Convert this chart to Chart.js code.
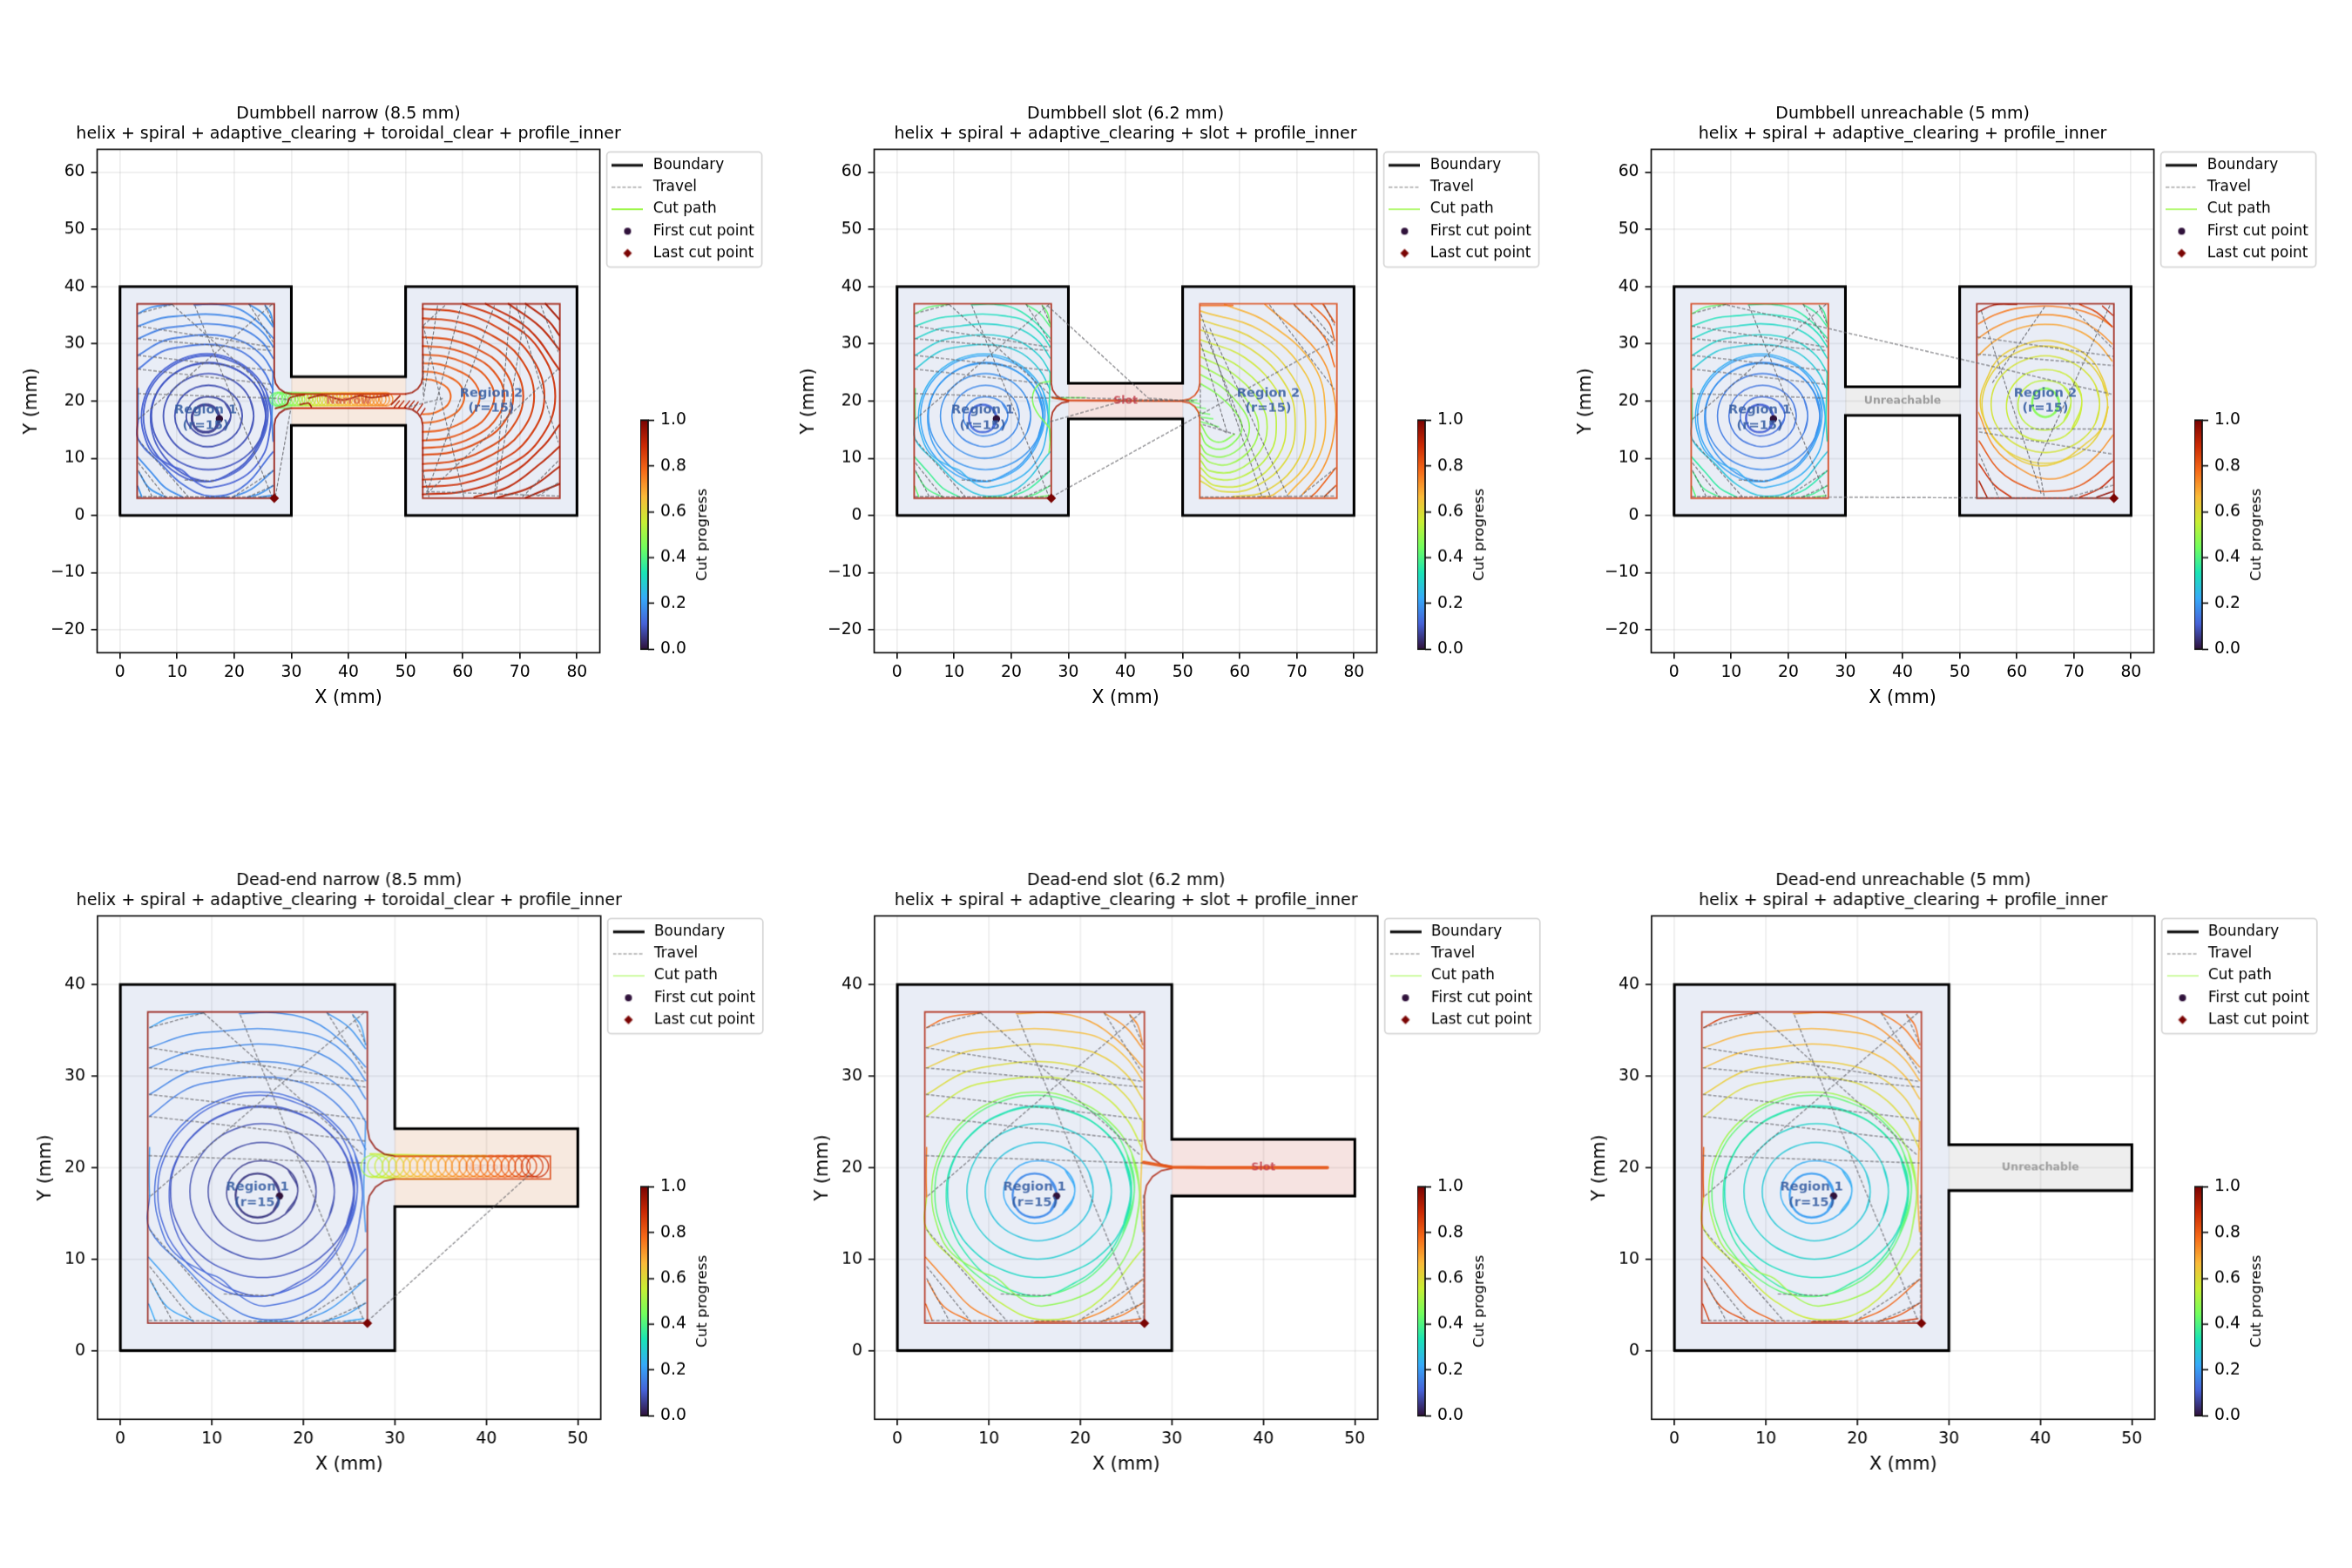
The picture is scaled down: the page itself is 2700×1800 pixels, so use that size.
<!DOCTYPE html>
<html>
<head>
<meta charset="utf-8">
<title>Toolpath cut progress</title>
<script src="https://cdn.jsdelivr.net/npm/chart.js@4/dist/chart.umd.js"></script>
<style>
    html, body { margin: 0; background: #ffffff; }
    #page { position: relative; width: 2700px; height: 1800px; overflow: hidden; }
    #page canvas { position: absolute; left: 0; top: 0; }
</style>
</head>
<body>
<div id="page"></div>
<script>
// ---- outlines (mm) ----
const roomLeft = [[0, 0], [30, 0], [30, 40], [0, 40], [0, 0]];
const roomRight = [[50, 0], [80, 0], [80, 40], [50, 40], [50, 0]];
const neckNarrow = [[30, 15.75], [50, 15.75], [50, 24.25], [30, 24.25], [30, 15.75]];
const neckSlot = [[30, 16.9], [50, 16.9], [50, 23.1], [30, 23.1], [30, 16.9]];
const neckBlocked = [[30, 17.5], [50, 17.5], [50, 22.5], [30, 22.5], [30, 17.5]];
const dumbbellNarrow = [[0, 0], [30, 0], [30, 15.75], [50, 15.75], [50, 0], [80, 0], [80, 40], [50, 40], [50, 24.25], [30, 24.25], [30, 40], [0, 40], [0, 0]];
const dumbbellSlot = [[0, 0], [30, 0], [30, 16.9], [50, 16.9], [50, 0], [80, 0], [80, 40], [50, 40], [50, 23.1], [30, 23.1], [30, 40], [0, 40], [0, 0]];
const dumbbellBlocked = [[0, 0], [30, 0], [30, 17.5], [50, 17.5], [50, 0], [80, 0], [80, 40], [50, 40], [50, 22.5], [30, 22.5], [30, 40], [0, 40], [0, 0]];
const deadEndNarrow = [[0, 0], [30, 0], [30, 15.75], [50, 15.75], [50, 24.25], [30, 24.25], [30, 40], [0, 40], [0, 0]];
const deadEndSlot = [[0, 0], [30, 0], [30, 16.9], [50, 16.9], [50, 23.1], [30, 23.1], [30, 40], [0, 40], [0, 0]];
const deadEndBlocked = [[0, 0], [30, 0], [30, 17.5], [50, 17.5], [50, 22.5], [30, 22.5], [30, 40], [0, 40], [0, 0]];

// ---- profile passes ----
const profileLeftNarrow = [[30, 21.25], [28.85, 21.48], [27.88, 22.13], [27.23, 23.1], [27, 24.25], [27, 37], [3, 37], [3, 3], [27, 3], [27, 15.75], [27.23, 16.9], [27.88, 17.87], [28.85, 18.52], [30, 18.75]];
const profileNeckNarrow = [[[30, 21.25], [50, 21.25]], [[30, 18.75], [50, 18.75]]];
const profileRightNarrow = [[50, 21.25], [51.15, 21.48], [52.12, 22.13], [52.77, 23.1], [53, 24.25], [53, 37], [77, 37], [77, 3], [53, 3], [53, 15.75], [52.77, 16.9], [52.12, 17.87], [51.15, 18.52], [50, 18.75]];
const profileLeftSlot = [[30, 20.1], [28.85, 20.33], [27.88, 20.98], [27.23, 21.95], [27, 23.1], [27, 37], [3, 37], [3, 3], [27, 3], [27, 16.9], [27.23, 18.05], [27.88, 19.02], [28.85, 19.67], [30, 19.9]];
const profileRightSlot = [[50, 20.1], [51.15, 20.33], [52.12, 20.98], [52.77, 21.95], [53, 23.1], [53, 37], [77, 37], [77, 3], [53, 3], [53, 16.9], [52.77, 18.05], [52.12, 19.02], [51.15, 19.67], [50, 19.9]];
const profileRectLeft = [[27, 3], [27, 37], [3, 37], [3, 3], [27, 3]];
const profileRectRight = [[77, 3], [77, 37], [53, 37], [53, 3], [77, 3]];
const profilePocketNarrow = [[30, 21.25], [47, 21.25], [47, 18.75], [30, 18.75]];

// ---- spiral turns of the first pocket, helix first, corners last ----
const pocketOneTurns = [
    [[17.4, 17], [16.7, 18.7], [15, 19.35], [13.3, 18.7], [12.6, 17], [13.3, 15.2], [15, 14.55], [16.7, 15.2], [17.4, 17]],
    [[19.4, 17.4], [18.3, 19.8], [15.4, 20.75], [12.8, 19.8], [11.6, 17.2], [12.8, 14.9], [15, 13.9], [18, 14.9], [19.4, 17.4]],
    [[21.4, 17.4], [20.95, 19.45], [19.7, 21.2], [17.75, 22.35], [15.5, 22.75], [13.25, 22.35], [11.3, 21.2], [10.05, 19.45], [9.6, 17.4], [10.05, 15.35], [11.3, 13.6], [13.25, 12.45], [15.3, 12], [17.6, 12.45], [19.6, 13.6], [20.95, 15.35], [21.4, 17.4]],
    [[23.4, 17.4], [22.8, 20.2], [21.1, 22.6], [18.5, 24.2], [15.5, 24.8], [12.5, 24.2], [9.9, 22.6], [8.2, 20.2], [7.6, 17.4], [8.2, 14.6], [9.9, 12.2], [12.5, 10.6], [15.3, 10], [18.3, 10.6], [21, 12.2], [22.8, 14.6], [23.4, 17.4]],
    [[25.5, 17.4], [24.74, 21], [22.57, 24], [19.33, 26], [15.5, 26.75], [11.67, 26], [8.43, 24], [6.26, 21], [5.5, 17.4], [6.26, 13.8], [8.43, 10.8], [11.67, 8.76], [15.5, 8], [19.33, 8.76], [22.57, 10.8], [24.74, 13.8], [25.5, 17.4]],
    [[25.6, 17.4], [24.8, 21], [22.6, 24], [19.4, 25.9], [15.5, 26.6], [11.6, 25.9], [8.4, 23.9], [6.2, 21], [5.35, 17.4], [6, 13.3], [7.8, 10.2], [10, 8], [13, 6.4], [16, 6], [19, 7.2], [22, 9.3], [24.6, 13.2], [25.6, 17.4]],
    [[25.9, 17.4], [25.1, 21.5], [22.8, 25], [19.2, 27.1], [15.3, 27.9], [11, 27.1], [7.4, 24.8], [5, 21.5], [4.1, 17.4], [4.9, 13.2], [6.9, 10], [9, 8], [11.5, 6.5], [13.5, 6], [16, 6], [19, 6.9], [22, 8.9], [24.6, 12.6], [25.9, 17.4]],
    [[26.45, 17.4], [25.6, 21.6], [23.1, 25.1], [19.4, 27.4], [15.2, 28.25], [10.9, 27.4], [7.1, 25], [4.7, 21.6], [3.75, 17.4], [4.5, 13.2], [6, 10.6], [9.2, 8.6], [10.9, 7.9], [12.8, 6.2], [14.6, 5.1], [16, 4.9], [20, 5.9], [23, 7.8], [25.3, 11], [26.1, 14], [26.45, 17.4]],
    [[3.2, 17], [3.2, 13.3], [7.3, 8.9], [11, 5.4], [15.7, 3.4], [21.2, 4.8], [26.8, 11.1]],
    [[3.2, 25.6], [7.3, 28.6], [11, 29.5], [15, 29.9], [18.5, 29.6], [21.9, 28.3], [25, 25.4], [26.8, 22]],
    [[3.2, 28], [7.3, 30.4], [11, 31.2], [15, 31.6], [18.5, 31.3], [21.9, 30.2], [25, 27.8], [26.8, 25]],
    [[3.2, 30.9], [7.3, 32.6], [11, 33.1], [15, 33.5], [18.5, 33.2], [21.9, 32.4], [25, 30.2], [26.8, 27.5]],
    [[3.2, 33.1], [7.3, 34.5], [11, 34.9], [15, 35.2], [18.5, 34.9], [22, 34.2], [25, 32], [26.8, 29.5]],
    [[13, 36.8], [17, 36.9], [21, 36], [24.5, 33.5], [26.8, 31]],
    [[3.2, 35.3], [5.5, 36.4], [9.1, 36.9]],
    [[22.6, 36.9], [25, 35.3], [26.8, 33]],
    [[25.4, 36.7], [26.3, 35.5], [26.8, 33.4]],
    [[3.2, 22.2], [3.15, 19], [3.2, 16.8]],
    [[3.1, 10.2], [5.5, 7.5], [8, 4.8], [11, 3.2]],
    [[3.3, 7.6], [5.1, 4.8], [8, 3.2]],
    [[3.1, 5.1], [3.8, 3.3]],
    [[26.8, 7.8], [23, 4.6], [19.7, 3.2]],
    [[26.8, 5.2], [24.4, 3.8], [22.3, 3.2]],
    [[15, 3.15], [19, 3.2]],
    [[24.5, 3.2], [26.6, 3.5]],
    [[26.8, 25], [26.7, 21], [26.6, 17], [26.8, 13]],
];
const pocketOneNarrowProgress = [0.06, 0.075, 0.085, 0.09, 0.095, 0.1, 0.105, 0.11, 0.125, 0.135, 0.145, 0.155, 0.165, 0.17, 0.175, 0.18, 0.185, 0.18, 0.175, 0.185, 0.19, 0.17, 0.18, 0.185, 0.19, 0.16];
const pocketOneSlotProgress = [0.12, 0.165, 0.17, 0.18, 0.19, 0.2, 0.215, 0.235, 0.27, 0.28, 0.29, 0.3, 0.32, 0.35, 0.42, 0.4, 0.43, 0.4, 0.38, 0.4, 0.42, 0.37, 0.4, 0.42, 0.44, 0.36];
const pocketOneBlockedProgress = [0.11, 0.13, 0.14, 0.15, 0.17, 0.19, 0.21, 0.23, 0.27, 0.28, 0.3, 0.31, 0.33, 0.36, 0.42, 0.37, 0.38, 0.38, 0.36, 0.39, 0.41, 0.35, 0.38, 0.41, 0.42, 0.33];
const deadEndNarrowProgress = [0.05, 0.06, 0.075, 0.085, 0.095, 0.105, 0.115, 0.125, 0.14, 0.15, 0.16, 0.165, 0.17, 0.175, 0.21, 0.185, 0.2, 0.2, 0.2, 0.21, 0.22, 0.19, 0.2, 0.21, 0.22, 0.18];
const deadEndSlotProgress = [0.17, 0.22, 0.27, 0.29, 0.31, 0.35, 0.41, 0.48, 0.54, 0.56, 0.6, 0.63, 0.66, 0.7, 0.78, 0.72, 0.74, 0.76, 0.75, 0.77, 0.8, 0.74, 0.76, 0.78, 0.8, 0.65];
const deadEndBlockedProgress = [0.2, 0.23, 0.28, 0.3, 0.32, 0.36, 0.42, 0.5, 0.56, 0.6, 0.63, 0.66, 0.68, 0.72, 0.86, 0.76, 0.78, 0.8, 0.8, 0.83, 0.86, 0.79, 0.82, 0.85, 0.87, 0.7];

// ---- second pocket, one set per part ----
const pocketTwoNarrowArcs = [
    [[53, 23.8], [54.5, 23.7], [55.9, 23.2], [57.3, 22.3], [57.9, 20.8], [57.3, 19.25], [55.9, 18.3], [54.5, 17.8], [53, 17.7]],
    [[53, 25.15], [55.2, 25], [57.4, 24.3], [59.4, 23], [60.3, 20.8], [59.4, 18.5], [57.4, 17.1], [55.2, 16.4], [53, 16.2]],
    [[53, 26.6], [56, 26.4], [59, 25.4], [61.7, 23.7], [63, 20.8], [61.7, 17.7], [59, 15.8], [56, 14.85], [53, 14.6]],
    [[53, 28.1], [56.8, 27.8], [60.5, 26.6], [63.9, 24.45], [65.55, 20.8], [63.9, 16.95], [60.5, 14.65], [56.8, 13.4], [53, 13.1]],
    [[53, 29.6], [57.3, 29.25], [61.6, 27.85], [65.4, 25.2], [67.3, 20.8], [65.4, 16.3], [61.6, 13.6], [57.3, 12.15], [53, 11.8]],
    [[53, 31.15], [57.75, 30.75], [62.5, 29.1], [66.8, 26], [68.85, 20.8], [66.8, 15.7], [62.5, 12.65], [57.75, 11], [53, 10.6]],
    [[53, 32.9], [58.3, 32.4], [63.55, 30.5], [68.3, 26.85], [70.6, 20.8], [68.3, 14.9], [63.55, 11.35], [58.3, 9.5], [53, 9]],
    [[53, 34.45], [58.85, 33.9], [64.7, 31.7], [70, 27.6], [72.5, 20.8], [70, 14.3], [64.7, 10.4], [58.85, 8.3], [53, 7.8]],
    [[53, 36.1], [59.4, 35.5], [65.8, 33], [71.5, 28.45], [74.3, 20.8], [71.5, 13.5], [65.8, 9.15], [59.4, 6.8], [53, 6.25]],
    [[60, 37], [66.9, 34.3], [73.2, 29.25], [76.2, 20.8], [73.2, 12.9], [66.9, 8.15], [60, 5.6], [53, 5]],
    [[64, 37], [71.5, 32.6], [76.9, 25.5]],
    [[76.9, 15.8], [74, 12], [68, 7], [60, 4.2], [53, 3.7]],
    [[68, 37], [73.5, 33], [76.9, 29]],
    [[76.9, 12], [73.5, 9], [68, 5], [62, 3.2]],
    [[71, 37], [75, 34], [76.9, 31.5]],
    [[76.9, 8.5], [72, 5], [66, 3.1]],
    [[74.5, 37], [76.9, 34.3]],
    [[76.9, 5.5], [71, 3.1]],
];
const pocketTwoNarrowProgress = [0.79, 0.8, 0.81, 0.82, 0.83, 0.84, 0.85, 0.86, 0.87, 0.88, 0.9, 0.9, 0.91, 0.91, 0.92, 0.92, 0.94, 0.94];
const pocketTwoSlotArcs = [
    [[53.2, 15.9], [54.75, 13.4], [56.8, 12.85], [59.1, 14.2]],
    [[53.2, 23], [56.3, 21], [59.3, 18], [60.4, 15.4], [59.3, 13.1], [56.8, 11.6], [54.2, 12.35], [53.2, 14.4]],
    [[53.2, 24.6], [56.8, 22.5], [60.6, 18.4], [61.7, 15.4], [60.6, 12.35], [57.3, 10.3], [54.2, 10.8], [53.2, 12.3]],
    [[53.2, 26.2], [57.8, 23.5], [62.1, 19], [63.3, 15.4], [62.1, 11.8], [58.3, 9], [54.75, 9.3], [53.2, 10.8]],
    [[53.2, 27.7], [58.8, 24.8], [63.6, 19.7], [64.8, 15.4], [63.6, 11.3], [59.3, 7.8], [54.75, 7.8], [53.2, 9.55]],
    [[53.2, 29.1], [59.8, 26.05], [65.2, 20.5], [66.4, 15.9], [65.2, 10.8], [60.3, 6.75], [55.3, 6.5], [53.2, 8.3]],
    [[53.2, 30.7], [60.85, 27.6], [66.7, 21.5], [68.1, 15.9], [66.7, 10.3], [61.6, 5.7], [55.8, 5.2], [53.2, 7]],
    [[53.2, 32.4], [61.9, 29.1], [68.2, 22.5], [69.7, 15.9], [68.2, 9.8], [62.6, 5], [56.8, 4.2], [53.2, 6]],
    [[53.2, 34.2], [62.9, 30.6], [69.7, 23.5], [71.5, 16.4], [70, 9.3], [64.4, 4.2], [58.8, 3.3]],
    [[53.2, 35.7], [63.9, 32.2], [71.5, 24.8], [73.3, 16.9], [71.8, 9.3], [66, 3.7], [63.4, 3.2]],
    [[57.3, 36.9], [64.9, 33.7], [73, 26.1], [75, 17.4], [73.6, 9.8], [68.5, 3.7]],
    [[64.4, 36.9], [73.6, 28.6], [76.5, 21], [76.5, 14.4], [74.6, 8.3], [71, 3.7]],
    [[69.5, 36.9], [74.8, 31.1], [76.6, 26]],
    [[72.5, 36.9], [75.6, 33.7], [76.6, 30.6]],
    [[74.6, 36.9], [76.6, 33.7]],
    [[76.8, 8.3], [73.5, 4.2], [72.5, 3.3]],
    [[76.8, 5.2], [74.8, 3.3]],
    [[53.2, 36.7], [58.8, 36.7]],
];
const pocketTwoSlotProgress = [0.47, 0.47, 0.48, 0.5, 0.52, 0.54, 0.57, 0.6, 0.62, 0.65, 0.68, 0.72, 0.78, 0.8, 0.82, 0.8, 0.82, 0.78];
const pocketTwoBlockedTurns = [
    [[67.4, 19.7], [66.7, 21.4], [65, 22.2], [63.3, 21.4], [62.7, 19.7], [63.3, 18], [65, 17.2], [66.7, 18], [67.4, 19.7]],
    [[69.5, 20], [68.2, 22.6], [65, 23.6], [61.8, 22.6], [60.2, 19.6], [61.5, 16.2], [65, 14.9], [68.2, 16.4], [69.5, 20]],
    [[71.4, 20], [69.5, 24], [65, 25.5], [60.5, 24], [58.2, 19.5], [60, 14.8], [65, 13], [69.5, 14.8], [71.4, 20]],
    [[74.5, 19.45], [73.8, 22.7], [71.7, 25.4], [68.6, 27.2], [65, 27.9], [61.4, 27.2], [58.3, 25.4], [56.2, 22.7], [55.5, 19.45], [56.2, 16.2], [58.3, 13.5], [61.4, 11.7], [65, 11], [68.6, 11.7], [71.7, 13.5], [73.8, 16.2], [74.5, 19.45]],
    [[75.9, 19.4], [75, 23.3], [72.7, 26.6], [69.1, 28.8], [64.9, 29.6], [60.7, 28.8], [57.1, 26.6], [54.8, 23.3], [53.9, 19.4], [54.8, 15.5], [57.1, 12.2], [60.7, 10], [64.9, 9.1], [69.1, 10], [72.7, 12.2], [75, 15.5], [75.9, 19.4]],
    [[76, 21], [75, 24], [73, 27.3], [69.2, 29.7], [65, 30.6], [60.8, 29.7], [57, 27.6], [54.8, 24], [53.6, 20], [54.6, 16], [56.5, 13], [61, 9.4], [66.5, 9], [72, 12.5], [75, 15.5], [76, 19]],
    [[53.3, 28], [56, 30.4], [60, 32.6], [65, 33.4], [70, 32.6], [74, 30.2], [76.7, 27]],
    [[53.3, 31], [56, 32.8], [60, 34.4], [65, 35.1], [70, 34.4], [74, 32.4], [76.7, 30]],
    [[53.3, 33.5], [56, 35], [60, 36.2], [65, 36.6], [70, 36.1], [74, 34.8], [76.7, 33]],
    [[53.3, 35.6], [56, 36.8], [60, 36.9]],
    [[71, 36.9], [74, 35.5], [76.7, 33]],
    [[75, 36.6], [76.8, 35]],
    [[53.3, 18], [56, 12], [60, 8.5], [65, 6.4], [70, 7.5], [74, 10.5], [76.8, 14]],
    [[53.4, 13], [57, 7.8], [62, 4.8], [65, 4.2], [71, 5.2], [76.8, 9.5]],
    [[53.4, 9], [56, 5.4], [59, 3.2]],
    [[53.4, 6], [54.8, 3.2]],
    [[71, 3.2], [74.5, 4.7], [76.8, 6.7]],
    [[74, 3.2], [76.8, 4.2]],
];
const pocketTwoBlockedProgress = [0.47, 0.54, 0.56, 0.58, 0.62, 0.63, 0.7, 0.73, 0.76, 0.93, 0.85, 0.9, 0.72, 0.82, 0.88, 0.93, 0.9, 0.97];

// ---- neck passes ----
const neckWavesNarrow = [
    [[27.2, 18.7], [29.2, 19.4], [29.7, 20.5], [32.3, 21.1]],
    [[33, 20.5], [35.5, 21], [39, 20.2], [42, 20.9], [44, 20.6], [47, 21]],
    [[47.5, 19.4], [49, 20.9]],
    [[31.5, 19.4], [33, 19.6], [33.5, 19]],
];
const neckHatchNarrow = [
    [[48, 18.9], [48.9, 20]], [[48.8, 18.9], [49.7, 20]], [[49.8, 18.9], [50.7, 20]], [[50.6, 18.9], [51.5, 20]],
    [[51.3, 18.6], [52.2, 19.8]], [[52.1, 18.2], [53, 19.5]], [[52.6, 17.5], [53.4, 18.7]],
];
const coilXNarrow = [27.4, 27.8, 28.2, 28.8, 29.4, 30, 30.6, 31.2, 31.9, 32.5, 33.1, 33.8, 34.4, 35, 35.7, 36.3, 37, 37.6, 38.3, 38.9, 39.5, 40.2, 40.8, 41.5, 42.1, 42.8, 43.4, 44.1, 44.7, 45.4, 46, 46.6];
const coilYNarrow = [20.3, 20.3, 20.3, 20.3, 20.3, 20.3, 20.3, 20.3, 20.3, 20.3, 20.3, 20.3, 20.3, 20.3, 20.3, 20.3, 20.3, 20.3, 20.3, 20.3, 20.3, 20.3, 20.3, 20.3, 20.3, 20.3, 20.3, 20.3, 20.3, 20.3, 20.3, 20.3];
const coilProgressNarrow = [0.43, 0.43, 0.44, 0.45, 0.46, 0.47, 0.48, 0.5, 0.51, 0.53, 0.54, 0.56, 0.57, 0.58, 0.6, 0.61, 0.62, 0.63, 0.64, 0.65, 0.66, 0.67, 0.68, 0.69, 0.7, 0.71, 0.71, 0.72, 0.72, 0.73, 0.73, 0.74];
const coilXDeadEnd = [27.5, 28.2, 29, 29.8, 30.5, 31.3, 32.1, 32.8, 33.6, 34.4, 35.1, 35.9, 36.7, 37.4, 38.2, 39, 39.7, 40.5, 41.3, 42, 42.8, 43.6, 44.3, 45, 45.6];
const coilYDeadEnd = [20.15, 20.15, 20.15, 20.15, 20.15, 20.15, 20.15, 20.15, 20.15, 20.15, 20.15, 20.15, 20.15, 20.15, 20.15, 20.15, 20.15, 20.15, 20.15, 20.15, 20.15, 20.15, 20.15, 20.15, 20.15];
const coilProgressDeadEnd = [0.5, 0.53, 0.56, 0.59, 0.62, 0.64, 0.66, 0.67, 0.68, 0.69, 0.7, 0.71, 0.72, 0.73, 0.74, 0.75, 0.76, 0.77, 0.78, 0.8, 0.81, 0.83, 0.85, 0.87, 0.89];
const streaksNarrow = [[[27.6, 21.45], [35, 21.3]], [[27.3, 18.85], [30, 18.8]]];
const streaksDeadEnd = [[[27.3, 21.5], [33, 21.35], [40, 21.25]], [[27.3, 19], [31, 18.75], [37, 18.75]]];
const slotPassDumbbell = [[27.2, 20.6], [30, 20.1], [50, 20]];
const slotEntryDumbbell = [
    [[27.2, 20.5], [33, 20.6]], [[50.7, 20.1], [52.5, 20.2]], [[51.2, 19.9], [53, 19.5]], [[52.2, 19], [54, 18.7]],
    [[52.7, 18], [54.75, 17.7]], [[53.1, 17.2], [55.3, 16.9]], [[53.1, 16.4], [56.3, 15.5]],
];
const slotPassDeadEnd = [[26.9, 20.56], [30, 20.05], [34, 20], [47, 20]];
const relaxedLoopSlot = [[27, 23.5], [24.8, 22.9], [23.7, 20.6], [24.5, 18], [26.8, 15], [26.8, 13], [26.6, 11]];

// ---- rapid moves between cuts ----
const travelPocketOne = [
    [[3.1, 33.1], [26.8, 29.4]], [[3.1, 30.9], [26.8, 28.8]], [[3.1, 28], [26.8, 25.3]], [[3.1, 25.6], [26.8, 22.9]],
    [[3.1, 21.3], [26.8, 20.5]], [[3.2, 35.3], [9.1, 36.9]], [[13.1, 36.7], [26.6, 3.3]], [[26.6, 36.9], [3.2, 16.8]],
    [[22.6, 36.9], [26.8, 30.3]], [[25.4, 36.7], [26.8, 33.5]], [[3.2, 13.2], [12, 3.2]], [[3.2, 9.2], [8, 3.2]],
    [[3.2, 7.9], [5.7, 3.2]], [[3.1, 3.3], [26.6, 3.2]], [[19.7, 3.2], [26.8, 7.8]], [[22.3, 3.2], [26.8, 5.2]],
    [[11.3, 6.2], [16.8, 6]],
];
const travelSteepDiagonal = [[[9.1, 36.9], [26.6, 21.3]]];
const travelPocketTwoNarrow = [
    [[56.9, 36.7], [53.1, 33.2]], [[55.6, 36.7], [53.1, 20.2]], [[53.1, 33.2], [60.2, 3.2]], [[59.7, 36.7], [53.6, 12.9]],
    [[65.55, 36.7], [53.6, 3.7]], [[68.35, 36.7], [65.55, 3.2]], [[71.1, 36.7], [65.8, 3.7]], [[69.4, 36.7], [76.7, 12.8]],
    [[73.7, 36.7], [76.7, 28.6]], [[76.7, 25.6], [53.6, 3.7]], [[76.7, 9.5], [70.4, 3.2]], [[76.7, 5.7], [72.9, 3.2]],
    [[53.6, 4.2], [76.9, 3.4]], [[53.1, 28], [53.1, 21]], [[50.6, 19], [56.7, 20.5]], [[53, 8], [54.1, 3.2]],
    [[27.2, 3.3], [29.9, 18.7]], [[26.8, 20.5], [30, 20.2]],
];
const travelPocketTwoSlot = [
    [[53.2, 35.2], [63.9, 3.2]], [[53.5, 33], [65.4, 3.2]], [[54.75, 32.7], [68.5, 3.2]], [[53.2, 30.1], [57.8, 14.4]],
    [[65.2, 36.8], [76.6, 22]], [[69.5, 36.8], [76.6, 29.6]], [[72.3, 35.7], [76.6, 30.6]], [[74.8, 36.8], [76.6, 33.2]],
    [[70.5, 3.3], [76.8, 8.3]], [[74.8, 3.3], [76.8, 5.2]], [[53, 3.2], [76.8, 3.4]], [[53.1, 23], [53.1, 17.4]],
    [[53.2, 17], [57.8, 14.4]], [[53.5, 15.9], [59.1, 14.2]],
    [[27, 3.2], [76.6, 30.6]], [[26.3, 36.7], [44, 20.5]], [[44, 20.5], [50, 20.1]], [[26.8, 16.4], [39.5, 20]],
    [[39.5, 20], [51.7, 20.1]], [[26.8, 20.7], [52, 20]],
];
const travelPocketTwoBlocked = [
    [[53.1, 31.2], [76.9, 27.8]], [[53.1, 28.2], [76.9, 26.2]], [[53.2, 15.2], [76.9, 15.1]], [[53.4, 14.6], [76.9, 10.7]],
    [[69, 37], [76.9, 29.1]], [[53.8, 35.7], [64.3, 3.7]], [[64.9, 36.5], [55.6, 23]], [[76.3, 36.7], [63.7, 9.4]],
    [[63.7, 9.4], [64.8, 3.3]], [[53.4, 10.8], [56.8, 3.2]], [[76.9, 5.3], [69, 3.2]], [[9.2, 36.8], [76.6, 21.2]],
    [[27, 3.2], [77, 3]],
];
const travelPocketNarrowExit = [[[27, 3.2], [44.9, 19.4]]];
const travelWallSide = [[[26.9, 17], [26.9, 3.2]]];

// ---- axes, ticks, marks ----
const topXRange = [-4, 84];
const topYRange = [-24, 64];
const bottomXRange = [-2.5, 52.5];
const bottomYRange = [-7.5, 47.5];
const firstCutPoint = [17.4, 16.9];
const lastCutLeft = [27, 3];
const lastCutRight = [77, 3];
const colorbarTicks = [0, 0.2, 0.4, 0.6, 0.8, 1];
const legendEntries = ["Boundary", "Travel", "Cut path", "First cut point", "Last cut point"];

const TITLE_PATHS_TOROIDAL = "helix + spiral + adaptive_clearing + toroidal_clear + profile_inner";
const TITLE_PATHS_SLOT = "helix + spiral + adaptive_clearing + slot + profile_inner";
const TITLE_PATHS_BLOCKED = "helix + spiral + adaptive_clearing + profile_inner";
const FONT = '"DejaVu Sans", sans-serif';

const TURBO_STOPS = ["#30123b", "#4662d7", "#36aaf9", "#1ae4b6", "#72fe5e", "#c8ef34", "#faba39", "#f66b19", "#cb2a04", "#7a0403"];
const ROOM_FILL = "rgba(74,111,184,0.12)";
const NARROW_FILL = "rgba(200,100,30,0.14)";
const SLOT_FILL = "rgba(192,57,43,0.14)";
const BLOCKED_FILL = "rgba(127,127,127,0.13)";
const TRAVEL_COLOR = "rgba(95,95,100,0.8)";

function turboRgb(t) {
    const pos = Math.min(Math.max(t, 0), 1) * (TURBO_STOPS.length - 1);
    const i = Math.min(Math.floor(pos), TURBO_STOPS.length - 2);
    const f = pos - i;
    const a = TURBO_STOPS[i];
    const b = TURBO_STOPS[i + 1];
    return [1, 3, 5].map((k) => {
        const from = parseInt(a.substr(k, 2), 16);
        const to = parseInt(b.substr(k, 2), 16);
        return Math.round(from + (to - from) * f);
    });
}

function turbo(t, alpha = 1) {
    return `rgba(${turboRgb(t).join(",")},${alpha})`;
}

function toXY(points) {
    return points.map((p) => ({ x: p[0], y: p[1] }));
}

// several separate strokes in one dataset, split by null points
function joinStrokes(strokes) {
    const out = [];
    strokes.forEach((stroke, i) => {
        if (i > 0) {
            out.push({ x: null, y: null });
        }
        stroke.forEach((p) => out.push({ x: p[0], y: p[1] }));
    });
    return out;
}

function lineSet(data, color, width, extra = {}) {
    return {
        data,
        showLine: true,
        borderColor: color,
        borderWidth: width,
        pointRadius: 0,
        fill: false,
        tension: 0,
        borderJoinStyle: "round",
        borderCapStyle: "round",
        ...extra,
    };
}

function fillSet(points, color) {
    return lineSet(toXY(points), "rgba(0,0,0,0)", 0, { fill: "shape", backgroundColor: color });
}

// closed turns overlap by one point each way so the spline has no corner at the seam
function smoothTurn(line) {
    const first = line[0];
    const last = line[line.length - 1];
    if (first[0] === last[0] && first[1] === last[1]) {
        return [line[line.length - 2], ...line, line[1]];
    }
    return line;
}

function cutSets(lines, progress, width, boldFirst = true) {
    return lines.map((line, i) =>
        lineSet(toXY(smoothTurn(line)), turbo(progress[i], 0.92), boldFirst && i === 0 ? width * 1.6 : width, { tension: 0.4 }),
    );
}

function profileSet(points, t, width = 1.9) {
    return lineSet(toXY(points), turbo(t, 0.8), width, { borderJoinStyle: "miter" });
}

function strokeSet(strokes, t, width, alpha = 0.9, tension = 0) {
    return lineSet(joinStrokes(strokes), turbo(t, alpha), width, { tension });
}

function coilSet(xs, ys, progress, radius, width) {
    return {
        data: xs.map((x, i) => ({ x, y: ys[i] })),
        showLine: false,
        pointRadius: radius,
        pointStyle: "circle",
        pointBorderWidth: width,
        pointBackgroundColor: "rgba(0,0,0,0)",
        pointBorderColor: progress.map((t) => turbo(t, 0.85)),
    };
}

function travelSet(strokes) {
    return lineSet(joinStrokes(strokes), TRAVEL_COLOR, 1.2, {
        borderDash: [4, 2],
        borderCapStyle: "butt",
    });
}

function markerSet(point, style, radius, color) {
    return {
        data: toXY([point]),
        showLine: false,
        pointStyle: style,
        pointRadius: radius,
        pointBorderWidth: 0,
        pointBackgroundColor: color,
    };
}

function legendIcon(paint) {
    const icon = document.createElement("canvas");
    icon.width = 36;
    icon.height = 14;
    paint(icon.getContext("2d"));
    return icon;
}

function lineIcon(color, width, dash) {
    return legendIcon((ctx) => {
        ctx.strokeStyle = color;
        ctx.lineWidth = width;
        ctx.setLineDash(dash);
        ctx.beginPath();
        ctx.moveTo(0, 7);
        ctx.lineTo(36, 7);
        ctx.stroke();
    });
}

function dotIcon(color) {
    return legendIcon((ctx) => {
        ctx.fillStyle = color;
        ctx.beginPath();
        ctx.arc(18, 7, 4, 0, Math.PI * 2);
        ctx.fill();
    });
}

function diamondIcon(color) {
    return legendIcon((ctx) => {
        ctx.fillStyle = color;
        ctx.beginPath();
        ctx.moveTo(18, 2);
        ctx.lineTo(23, 7);
        ctx.lineTo(18, 12);
        ctx.lineTo(13, 7);
        ctx.closePath();
        ctx.fill();
    });
}

function legendItems(cutWidth) {
    const icons = [
        lineIcon("#000000", 3.1, []),
        lineIcon("rgba(110,110,110,0.9)", 1, [4, 2]),
        lineIcon(turbo(0.5), cutWidth, []),
        dotIcon(TURBO_STOPS[0]),
        diamondIcon(TURBO_STOPS[TURBO_STOPS.length - 1]),
    ];
    return legendEntries.map((text, i) => ({
        text,
        pointStyle: icons[i],
        fontColor: "#000000",
        fillStyle: "#000000",
        strokeStyle: "#000000",
        lineWidth: 1,
        hidden: false,
        datasetIndex: 0,
    }));
}

function drawNote(chart, note) {
    const { ctx, scales } = chart;
    const px = scales.x.getPixelForValue(note.x);
    const py = scales.y.getPixelForValue(note.y);
    ctx.save();
    ctx.font = `bold ${note.size}px ${FONT}`;
    ctx.fillStyle = note.color;
    ctx.textAlign = "center";
    ctx.textBaseline = "middle";
    note.lines.forEach((line, i) => {
        ctx.fillText(line, px, py + (i - (note.lines.length - 1) / 2) * 17.7);
    });
    ctx.restore();
}

const REGION_BLUE = "rgba(50,90,160,0.85)";
const regionOne = { lines: ["Region 1", "(r=15)"], x: 15, y: 17, size: 14.6, color: REGION_BLUE };
const regionTwo = { lines: ["Region 2", "(r=15)"], x: 65, y: 20, size: 14.6, color: REGION_BLUE };
const narrowNote = { lines: ["Narrow"], x: 40, y: 20, size: 12.5, color: "rgba(214,96,70,0.8)" };
const narrowNoteFaint = { lines: ["Narrow"], x: 40, y: 20, size: 12.5, color: "rgba(214,96,70,0.2)" };
const slotNote = { lines: ["Slot"], x: 40, y: 20, size: 12.5, color: "rgba(192,57,70,0.8)" };
const blockedNote = { lines: ["Unreachable"], x: 40, y: 20, size: 12.5, color: "rgba(127,127,127,0.7)" };

const framePlugin = {
    id: "panelFrame",
    afterLayout(chart) {
        // keep the legend box beside the axes frame, top aligned
        const legend = chart.legend;
        const area = chart.chartArea;
        const width = legend.width;
        const height = legend.height;
        legend.left = area.right + 2.5;
        legend.top = area.top + 1.5;
        legend.right = legend.left + width + 12;
        legend.bottom = legend.top + height;
        // the second title line is wider than the axes
        const title = chart.titleBlock;
        title.left = area.left - 80;
        title.right = area.right + 80;
        title.width = title.right - title.left;
    },
    beforeDraw(chart) {
        const { ctx, chartArea: area } = chart;
        ctx.save();
        ctx.beginPath();
        ctx.roundRect(area.right + 8, area.top + 3, 178, 132, 4);
        ctx.fillStyle = "rgba(255,255,255,0.8)";
        ctx.fill();
        ctx.strokeStyle = "#d6d6d6";
        ctx.lineWidth = 1.7;
        ctx.stroke();
        ctx.restore();
    },
    afterDatasetsDraw(chart, args, opts) {
        (opts.notes || []).forEach((note) => drawNote(chart, note));
    },
    afterDraw(chart) {
        const { ctx, chartArea: area } = chart;
        ctx.save();
        ctx.strokeStyle = "#111111";
        ctx.lineWidth = 1.7;
        ctx.strokeRect(area.left, area.top, area.width, area.height);
        ctx.restore();
    },
};

function axisOptions(range, label, extra) {
    return {
        type: "linear",
        min: range[0],
        max: range[1],
        title: {
            display: true,
            text: label,
            color: "#000000",
            font: { family: FONT, size: 20.8 },
            padding: extra.titlePadding,
        },
        border: { display: false },
        grid: {
            color: "rgba(170,170,170,0.2)",
            lineWidth: 1.7,
            tickColor: "#111111",
            tickWidth: 1.7,
            tickLength: 7,
        },
        ticks: {
            stepSize: 10,
            includeBounds: false,
            autoSkip: false,
            maxRotation: 0,
            padding: extra.tickPadding,
            color: "#000000",
            font: { family: FONT, size: 18.75 },
            callback: (v) => (v < 0 ? `\u2212${-v}` : `${v}`),
        },
    };
}

function addCanvas(width, height) {
    const canvas = document.createElement("canvas");
    canvas.width = width;
    canvas.height = height;
    document.getElementById("page").appendChild(canvas);
    return canvas;
}

// resize so the plot area has the wanted size, then slide the canvas into place
function placeChart(chart, box) {
    const first = chart.chartArea;
    chart.resize(chart.width + box.w - first.width, chart.height + box.h - first.height);
    const area = chart.chartArea;
    chart.canvas.style.left = `${Math.round(box.x - area.left)}px`;
    chart.canvas.style.top = `${Math.round(box.y - area.top)}px`;
}

function panelChart(panel, box) {
    const datasets = panel.sets.map((set, i) => ({ ...set, order: panel.sets.length - i }));
    const chart = new Chart(addCanvas(880, 790), {
        type: "scatter",
        data: { datasets },
        plugins: [framePlugin],
        options: {
            responsive: false,
            maintainAspectRatio: false,
            devicePixelRatio: 1,
            animation: false,
            events: [],
            layout: { padding: { left: 0, right: 16, top: 0, bottom: 0 } },
            scales: {
                x: axisOptions(panel.xRange, "X (mm)", { titlePadding: { top: 1, bottom: 0 }, tickPadding: 4.5 }),
                y: axisOptions(panel.yRange, "Y (mm)", { titlePadding: { top: 0, bottom: 2 }, tickPadding: 7 }),
            },
            plugins: {
                title: {
                    display: true,
                    fullSize: false,
                    text: panel.title,
                    color: "#000000",
                    font: { family: FONT, size: 19, weight: "normal", lineHeight: 1.22 },
                    padding: { top: 0, bottom: 6 },
                },
                legend: {
                    display: true,
                    position: "right",
                    align: "start",
                    labels: {
                        usePointStyle: true,
                        pointStyleWidth: 42,
                        boxHeight: 6,
                        padding: 8.3,
                        font: { family: FONT, size: 16.9 },
                        generateLabels: () => legendItems(panel.cutWidth),
                    },
                },
                tooltip: { enabled: false },
                panelFrame: { notes: panel.notes },
            },
        },
    });
    placeChart(chart, box);
    return chart;
}

function colorbarFill(context) {
    const area = context.chart.chartArea;
    if (!area) {
        return TURBO_STOPS[0];
    }
    const gradient = context.chart.ctx.createLinearGradient(0, area.bottom, 0, area.top);
    TURBO_STOPS.forEach((stop, i) => gradient.addColorStop(i / (TURBO_STOPS.length - 1), stop));
    return gradient;
}

const colorbarPlugin = {
    id: "colorbarFrame",
    afterDraw(chart) {
        const { ctx, chartArea: area } = chart;
        ctx.save();
        ctx.strokeStyle = "#111111";
        ctx.lineWidth = 1.7;
        ctx.strokeRect(area.left, area.top, area.width, area.height);
        // reads upward, which a right-hand axis title does not do
        ctx.translate(area.left + 72, (area.top + area.bottom) / 2);
        ctx.rotate(-Math.PI / 2);
        ctx.font = `16.67px ${FONT}`;
        ctx.fillStyle = "#000000";
        ctx.textAlign = "center";
        ctx.textBaseline = "middle";
        ctx.fillText("Cut progress", 0, 0);
        ctx.restore();
    },
};

function colorbarChart(box) {
    const chart = new Chart(addCanvas(130, 320), {
        type: "bar",
        data: {
            labels: [""],
            datasets: [{ data: [1], backgroundColor: colorbarFill, barPercentage: 1, categoryPercentage: 1 }],
        },
        plugins: [colorbarPlugin],
        options: {
            responsive: false,
            maintainAspectRatio: false,
            devicePixelRatio: 1,
            animation: false,
            events: [],
            layout: { padding: { right: 32, top: 12, bottom: 12 } },
            scales: {
                x: { display: false },
                y: {
                    position: "right",
                    min: 0,
                    max: 1,
                    afterBuildTicks: (axis) => {
                        axis.ticks = colorbarTicks.map((value) => ({ value }));
                    },
                    afterFit: (axis) => {
                        axis.width = 48;
                    },
                    border: { display: false },
                    grid: { drawOnChartArea: false, tickColor: "#111111", tickWidth: 1.7, tickLength: 7 },
                    ticks: {
                        padding: 7,
                        color: "#000000",
                        font: { family: FONT, size: 18.75 },
                        callback: (v) => Number(v).toFixed(1),
                    },
                },
            },
            plugins: { legend: { display: false }, tooltip: { enabled: false } },
        },
    });
    placeChart(chart, box);
    return chart;
}

const lastCutMark = (point) => markerSet(point, "rectRot", 5.5, TURBO_STOPS[TURBO_STOPS.length - 1]);
const firstCutMark = () => markerSet(firstCutPoint, "circle", 4.2, TURBO_STOPS[0]);

const panels = [
    {
        title: ["Dumbbell narrow (8.5 mm)", TITLE_PATHS_TOROIDAL],
        xRange: topXRange,
        yRange: topYRange,
        cutWidth: 2.1,
        notes: [regionOne, regionTwo, narrowNote],
        sets: [
            fillSet(roomLeft, ROOM_FILL),
            fillSet(roomRight, ROOM_FILL),
            fillSet(neckNarrow, NARROW_FILL),
            lineSet(toXY(dumbbellNarrow), "#000000", 3.1, { borderJoinStyle: "miter" }),
            ...cutSets(pocketOneTurns, pocketOneNarrowProgress, 1.9),
            ...cutSets(pocketTwoNarrowArcs, pocketTwoNarrowProgress, 2.1, false),
            coilSet(coilXNarrow, coilYNarrow, coilProgressNarrow, 7.7, 1.3),
            strokeSet(streaksNarrow, 0.45, 2),
            profileSet(profileLeftNarrow, 0.97, 2),
            strokeSet(profileNeckNarrow, 0.9, 2),
            profileSet(profileRightNarrow, 0.95, 2),
            strokeSet(neckWavesNarrow, 0.95, 1.8, 0.9, 0.4),
            strokeSet(neckHatchNarrow, 0.92, 1.5),
            travelSet([...travelPocketOne, ...travelSteepDiagonal, ...travelPocketTwoNarrow]),
            lastCutMark(lastCutLeft),
            firstCutMark(),
        ],
    },
    {
        title: ["Dumbbell slot (6.2 mm)", TITLE_PATHS_SLOT],
        xRange: topXRange,
        yRange: topYRange,
        cutWidth: 1.6,
        notes: [regionOne, regionTwo, slotNote],
        sets: [
            fillSet(roomLeft, ROOM_FILL),
            fillSet(roomRight, ROOM_FILL),
            fillSet(neckSlot, SLOT_FILL),
            lineSet(toXY(dumbbellSlot), "#000000", 3.1, { borderJoinStyle: "miter" }),
            ...cutSets(pocketOneTurns, pocketOneSlotProgress, 1.6),
            lineSet(toXY(relaxedLoopSlot), turbo(0.46, 0.92), 1.6, { tension: 0.4 }),
            ...cutSets(pocketTwoSlotArcs, pocketTwoSlotProgress, 1.7, false),
            strokeSet(slotEntryDumbbell, 0.44, 1.5),
            profileSet(profileLeftSlot, 0.94),
            profileSet(profileRightSlot, 0.85),
            lineSet(toXY(slotPassDumbbell), turbo(0.86, 0.9), 2.2),
            travelSet([...travelPocketOne, ...travelSteepDiagonal, ...travelPocketTwoSlot]),
            lastCutMark(lastCutLeft),
            firstCutMark(),
        ],
    },
    {
        title: ["Dumbbell unreachable (5 mm)", TITLE_PATHS_BLOCKED],
        xRange: topXRange,
        yRange: topYRange,
        cutWidth: 1.6,
        notes: [regionOne, regionTwo, blockedNote],
        sets: [
            fillSet(roomLeft, ROOM_FILL),
            fillSet(roomRight, ROOM_FILL),
            fillSet(neckBlocked, BLOCKED_FILL),
            lineSet(toXY(dumbbellBlocked), "#000000", 3.1, { borderJoinStyle: "miter" }),
            ...cutSets(pocketOneTurns, pocketOneBlockedProgress, 1.6),
            ...cutSets(pocketTwoBlockedTurns, pocketTwoBlockedProgress, 1.6),
            profileSet(profileRectLeft, 0.87),
            profileSet(profileRectRight, 0.96),
            travelSet([...travelPocketOne, ...travelPocketTwoBlocked]),
            lastCutMark(lastCutRight),
            firstCutMark(),
        ],
    },
    {
        title: ["Dead-end narrow (8.5 mm)", TITLE_PATHS_TOROIDAL],
        xRange: bottomXRange,
        yRange: bottomYRange,
        cutWidth: 1.2,
        notes: [regionOne, narrowNoteFaint],
        sets: [
            fillSet(roomLeft, ROOM_FILL),
            fillSet(neckNarrow, NARROW_FILL),
            lineSet(toXY(deadEndNarrow), "#000000", 3.1, { borderJoinStyle: "miter" }),
            ...cutSets(pocketOneTurns, deadEndNarrowProgress, 1.5),
            coilSet(coilXDeadEnd, coilYDeadEnd, coilProgressDeadEnd, 12.4, 1.4),
            strokeSet(streaksDeadEnd, 0.56, 1.8),
            profileSet(profileLeftNarrow, 0.97, 1.8),
            profileSet(profilePocketNarrow, 0.85, 1.8),
            travelSet([...travelPocketOne, ...travelSteepDiagonal, ...travelPocketNarrowExit]),
            lastCutMark(lastCutLeft),
            firstCutMark(),
        ],
    },
    {
        title: ["Dead-end slot (6.2 mm)", TITLE_PATHS_SLOT],
        xRange: bottomXRange,
        yRange: bottomYRange,
        cutWidth: 1.2,
        notes: [regionOne, slotNote],
        sets: [
            fillSet(roomLeft, ROOM_FILL),
            fillSet(neckSlot, SLOT_FILL),
            lineSet(toXY(deadEndSlot), "#000000", 3.1, { borderJoinStyle: "miter" }),
            ...cutSets(pocketOneTurns, deadEndSlotProgress, 1.5),
            profileSet(profileLeftSlot, 0.93, 1.8),
            lineSet(toXY(slotPassDeadEnd), turbo(0.82, 0.9), 3.8),
            travelSet([...travelPocketOne, ...travelSteepDiagonal, ...travelWallSide]),
            lastCutMark(lastCutLeft),
            firstCutMark(),
        ],
    },
    {
        title: ["Dead-end unreachable (5 mm)", TITLE_PATHS_BLOCKED],
        xRange: bottomXRange,
        yRange: bottomYRange,
        cutWidth: 1.2,
        notes: [regionOne, blockedNote],
        sets: [
            fillSet(roomLeft, ROOM_FILL),
            fillSet(neckBlocked, BLOCKED_FILL),
            lineSet(toXY(deadEndBlocked), "#000000", 3.1, { borderJoinStyle: "miter" }),
            ...cutSets(pocketOneTurns, deadEndBlockedProgress, 1.5),
            profileSet(profileRectLeft, 0.93, 1.8),
            travelSet([...travelPocketOne, ...travelSteepDiagonal, ...travelWallSide]),
            lastCutMark(lastCutLeft),
            firstCutMark(),
        ],
    },
];

const COLUMN_X = [112, 1004, 1896];
const ROW_Y = [171, 1051];
const PLOT_SIZE = 577;

panels.forEach((panel, i) => {
    const x = COLUMN_X[i % 3];
    const y = ROW_Y[Math.floor(i / 3)];
    panelChart(panel, { x, y, w: PLOT_SIZE, h: PLOT_SIZE });
    colorbarChart({ x: x + 623, y: y + 311, w: 9, h: 262 });
});
</script>
</body>
</html>
